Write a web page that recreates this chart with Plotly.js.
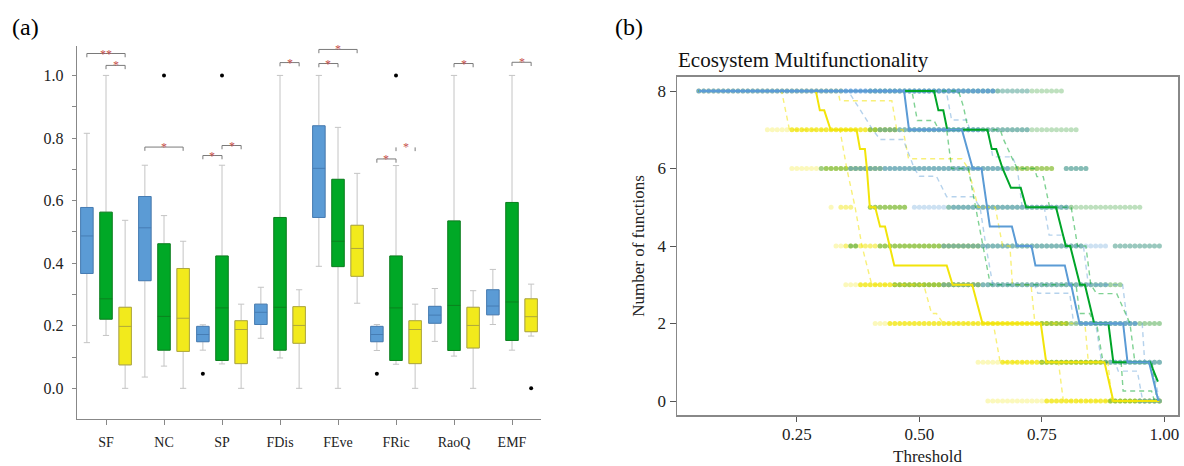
<!DOCTYPE html>
<html><head><meta charset="utf-8">
<script src="https://cdn.plot.ly/plotly-3.0.1.min.js"></script>
<style>html,body{margin:0;padding:0;background:#fff}#chart{width:1184px;height:466px}</style>
</head><body><div id="chart"></div>
<script>
// ---------- Panel (a) data ----------
const categories = ['SF','NC','SP','FDis','FEve','FRic','RaoQ','EMF'];

const blueLower = [0.146,0.036,0.122,0.160,0.390,0.121,0.150,0.204];
const blueQ1    = [0.367,0.344,0.149,0.204,0.546,0.149,0.208,0.235];
const blueMed   = [0.487,0.513,0.172,0.243,0.703,0.172,0.234,0.263];
const blueQ3    = [0.578,0.613,0.198,0.269,0.839,0.198,0.262,0.315];
const blueUpper = [0.815,0.713,0.203,0.323,1.000,0.204,0.319,0.380];

const greenLower = [0.169,0.071,0.078,0.097,0.000,0.077,0.103,0.122];
const greenQ1    = [0.221,0.122,0.089,0.122,0.389,0.089,0.121,0.153];
const greenMed   = [0.286,0.230,0.257,0.259,0.470,0.257,0.265,0.276];
const greenQ3    = [0.563,0.462,0.423,0.546,0.668,0.423,0.535,0.594];
const greenUpper = [1.000,0.552,0.713,1.000,0.834,0.712,1.000,1.000];

const yellowLower = [0.000,0.000,0.000,0.000,0.272,0.000,0.000,0.167];
const yellowQ1    = [0.075,0.118,0.079,0.144,0.358,0.079,0.129,0.181];
const yellowMed   = [0.198,0.224,0.188,0.201,0.447,0.188,0.201,0.229];
const yellowQ3    = [0.259,0.383,0.216,0.261,0.521,0.216,0.259,0.286];
const yellowUpper = [0.537,0.470,0.269,0.315,0.687,0.269,0.312,0.333];

const outlierCats   = ['NC','SP','SP','FRic','FRic','EMF'];
const outlierGroups = ['green','blue','green','blue','green','yellow'];
const outlierValues = [1.0,0.047,1.0,0.047,1.0,0.0];

const sigCats  = ['SF','SF','NC','SP','SP','FDis','FEve','FEve','FRic','FRic','RaoQ','EMF'];
const sigFrom  = ['blue','green','blue','blue','green','green','blue','blue','blue','green','green','green'];
const sigTo    = ['yellow','yellow','yellow','green','yellow','yellow','yellow','green','green','yellow','yellow','yellow'];
const sigLevel = [1.070,1.032,0.771,0.744,0.776,1.041,1.083,1.038,0.733,0.770,1.038,1.042];
const sigLabel = ['**','*','*','*','*','*','*','*','*','*','*','*'];
const sigBar   = [true,true,true,true,true,true,true,true,true,false,true,true];

// ---------- Panel (b) data ----------
const yellowSolidT = [0.05,0.289,0.297,0.306,0.319,0.372,0.379,0.389,0.393,0.399,0.41,0.42,0.43,0.44,0.449,0.556,0.568,0.608,0.629,0.748,0.759,0.878,0.896,0.99];
const yellowSolidN = [8,8,7.5,7.5,7,7,6.5,6.5,6,5,5,4.5,4.5,4,3.5,3.5,3,3,2,2,1,1,0,0];
const blueSolidT = [0.05,0.469,0.479,0.587,0.609,0.627,0.644,0.689,0.699,0.729,0.737,0.797,0.806,0.81,0.827,0.916,0.925,0.969,0.988];
const blueSolidN = [8,8,7,7,6,6,4.5,4.5,4,4,3.5,3.5,3,3,2,2,1,1,0];
const greenSolidT = [0.05,0.53,0.539,0.549,0.557,0.639,0.648,0.657,0.67,0.687,0.707,0.718,0.779,0.799,0.808,0.828,0.838,0.857,0.886,0.896,0.971,0.987];
const greenSolidN = [8,8,7.5,7.5,7,7,6.5,6.5,6,5.5,5.5,5,5,4,4,3,3,2,2,1,1,0.5];

const yellowLoT = [0.05,0.219,0.235,0.338,0.352,0.369,0.383,0.403,0.509,0.525,0.535,0.549,0.651,0.665,0.784,0.794,0.99];
const yellowLoN = [8,8,7,7,6,5,4,3,3,2.26,2.26,2,2,1,1,0,0];
const yellowHiT = [0.05,0.334,0.338,0.444,0.454,0.467,0.478,0.587,0.6,0.62,0.655,0.67,0.685,0.69,0.728,0.736,0.838,0.845,0.885,0.893,0.99];
const yellowHiN = [8,8,7.75,7.75,7,7,6.25,6.25,6,5,5,4,4,3,3,2,2,1,1,0,0];
const blueLoT = [0.05,0.35,0.36,0.375,0.405,0.42,0.467,0.49,0.5,0.535,0.556,0.61,0.624,0.636,0.65,0.735,0.742,0.807,0.815,0.86,0.872,0.9,0.906,0.945,0.956,0.99];
const blueLoN = [8,8,7.9,7.6,7,6.75,6.75,6,5.8,5.8,5.27,5.27,5,4,3,3,2.78,2.78,2,2,1,1,0.77,0.77,0,0];
const blueHiT = [0.05,0.555,0.566,0.597,0.603,0.64,0.65,0.69,0.70,0.705,0.71,0.755,0.765,0.794,0.80,0.835,0.845,0.915,0.925,0.955,0.96,0.975,0.99];
const blueHiN = [8,8,7.25,7.25,7,7,6.3,6.3,6,5.5,5,5,4.28,4.28,4,4,3,3,2,2,1,1,0];
const greenLoT = [0.05,0.485,0.496,0.53,0.54,0.556,0.566,0.60,0.63,0.645,0.82,0.827,0.848,0.856,0.862,0.875,0.912,0.916,0.974,0.98,0.99];
const greenLoN = [8,8,7.24,7.24,7,7,6,6,4,3,3,2.26,2.26,2,2,1,1,0.26,0.26,0,0];
const greenHiT = [0.05,0.58,0.59,0.60,0.665,0.672,0.69,0.70,0.735,0.74,0.753,0.766,0.81,0.823,0.84,0.85,0.862,0.903,0.93,0.94,0.975,0.985];
const greenHiN = [8,8,7.6,7,7,6.75,6.25,6,6,5.79,5.79,5,5,4,4,3,2.77,2.77,2,1,1,0];

// dots: level, from-threshold, to-threshold, opacity
const yellowDotLevel = [8,7,7,6,6,6,5,5,5,4,4,3,3,2,2,1,1,0,0];
const yellowDotFrom  = [0.05,0.19,0.24,0.24,0.31,0.70,0.32,0.34,0.40,0.33,0.35,0.35,0.38,0.41,0.44,0.62,0.67,0.64,0.76];
const yellowDotTo    = [0.34,0.23,0.45,0.30,0.42,0.77,0.32,0.36,0.47,0.34,0.62,0.37,0.62,0.43,0.80,0.66,0.88,0.75,0.99];
const yellowDotAlpha = [0.5,0.3,0.85,0.3,0.6,0.5,0.3,0.5,0.5,0.3,0.6,0.3,0.85,0.3,0.85,0.3,0.85,0.3,0.85];

const greenDotLevel = [8,8,7,7,6,6,6,5,5,5,4,4,4,3,2,1,0];
const greenDotFrom  = [0.40,0.67,0.40,0.73,0.30,0.41,0.80,0.40,0.56,0.82,0.36,0.42,0.90,0.45,0.75,0.75,0.89];
const greenDotTo    = [0.66,0.79,0.72,0.82,0.40,0.77,0.84,0.47,0.81,0.95,0.37,0.83,0.99,0.91,0.99,0.99,0.99];
const greenDotAlpha = [0.5,0.35,0.5,0.35,0.5,0.45,0.5,0.5,0.5,0.35,0.6,0.5,0.4,0.5,0.5,0.5,0.5];

const blueDotLevel = [8,8,7,7,7,6,6,5,5,4,4,4,3,2,1,0];
const blueDotFrom  = [0.05,0.66,0.42,0.48,0.63,0.36,0.80,0.49,0.57,0.55,0.84,0.90,0.55,0.83,0.88,0.95];
const blueDotTo    = [0.65,0.72,0.47,0.62,0.72,0.68,0.84,0.56,0.80,0.83,0.88,0.99,0.88,0.94,0.99,0.99];
const blueDotAlpha = [0.85,0.3,0.4,0.7,0.4,0.55,0.4,0.3,0.5,0.45,0.3,0.3,0.45,0.7,0.5,0.5];

// ---------- styles ----------
const SERIF = 'Liberation Serif, Times New Roman, serif';
const offset = {blue:-0.33, green:0, yellow:0.33};
const boxFill = {blue:'rgb(91,155,213)', green:'rgb(0,168,38)', yellow:'rgb(242,234,28)'};
const boxEdge = {blue:'rgb(70,125,180)', green:'rgb(10,130,30)', yellow:'rgb(175,168,60)'};
const lineCol = {blue:'rgb(91,155,213)', green:'rgb(0,165,40)', yellow:'rgb(242,228,10)'};
const dashCol = {blue:'rgba(91,155,213,0.45)', green:'rgba(0,165,40,0.5)', yellow:'rgba(242,228,10,0.55)'};
const dotCol = {blue:'rgb(91,155,213)', green:'rgb(70,165,70)', yellow:'rgb(242,232,30)'};
const BOXW = 0.215;

const traces = [];
function addBox(g, lo, q1, med, q3, hi){
  const xs = categories.map((c,i)=>i+offset[g]);
  traces.push({type:'box', orientation:'v', x:xs, q1:q1, median:med, q3:q3, lowerfence:lo, upperfence:hi,
    width:BOXW, fillcolor:'rgba(0,0,0,0)', line:{color:'#c4c4c4', width:1}, whiskerwidth:0.5,
    boxpoints:false, hoverinfo:'skip', showlegend:false, xaxis:'x', yaxis:'y'});
  traces.push({type:'box', orientation:'v', x:xs, q1:q1, median:med, q3:q3, lowerfence:q1, upperfence:q3,
    width:BOXW, fillcolor:boxFill[g], line:{color:boxEdge[g], width:1}, whiskerwidth:0,
    boxpoints:false, hoverinfo:'skip', showlegend:false, xaxis:'x', yaxis:'y'});
}
addBox('blue', blueLower, blueQ1, blueMed, blueQ3, blueUpper);
addBox('green', greenLower, greenQ1, greenMed, greenQ3, greenUpper);
addBox('yellow', yellowLower, yellowQ1, yellowMed, yellowQ3, yellowUpper);

traces.push({type:'scatter', mode:'markers', xaxis:'x', yaxis:'y', hoverinfo:'skip', showlegend:false,
  x: outlierCats.map((c,i)=>categories.indexOf(c)+offset[outlierGroups[i]]),
  y: outlierValues, marker:{color:'#000', size:4}});

const shapes = [], annotations = [];
const TICK = 0.012;
for (let k=0;k<sigCats.length;k++){
  const ci = categories.indexOf(sigCats[k]);
  const x1 = ci+offset[sigFrom[k]], x2 = ci+offset[sigTo[k]], y = sigLevel[k];
  const path = sigBar[k]
    ? `M ${x1},${y-TICK} L ${x1},${y} L ${x2},${y} L ${x2},${y-TICK}`
    : `M ${x1},${y-TICK} L ${x1},${y} M ${x2},${y} L ${x2},${y-TICK}`;
  shapes.push({type:'path', xref:'x', yref:'y', path:path, line:{color:'#7a7a7a', width:1}});
  annotations.push({xref:'x', yref:'y', x:(x1+x2)/2, y:y, text:sigLabel[k], showarrow:false,
    yanchor:'middle', xanchor:'center', font:{family:SERIF, size:12, color:'#c8504e'}});
}

// ---------- Panel (b) traces ----------
function addDots(g, lev, from, to, alpha){
  const xs=[], ys=[], op=[];
  for (let k=0;k<lev.length;k++){
    const a=Math.round(from[k]*100), b=Math.round(to[k]*100);
    for (let s=a;s<=b;s++){ xs.push(s/100); ys.push(lev[k]); op.push(alpha[k]); }
  }
  traces.push({type:'scatter', mode:'markers', x:xs, y:ys, xaxis:'x2', yaxis:'y2', hoverinfo:'skip', showlegend:false,
    marker:{color:dotCol[g], size:5, opacity:op, line:{width:0}}});
}
addDots('yellow', yellowDotLevel, yellowDotFrom, yellowDotTo, yellowDotAlpha);
addDots('green', greenDotLevel, greenDotFrom, greenDotTo, greenDotAlpha);
addDots('blue', blueDotLevel, blueDotFrom, blueDotTo, blueDotAlpha);

function addLine(g, t, n, dashed){
  traces.push({type:'scatter', mode:'lines', x:t, y:n, xaxis:'x2', yaxis:'y2', hoverinfo:'skip', showlegend:false,
    line: dashed ? {color:dashCol[g], width:1.4, dash:'5px,4px'} : {color:lineCol[g], width:2}});
}
addLine('yellow', yellowLoT, yellowLoN, true);
addLine('yellow', yellowHiT, yellowHiN, true);
addLine('blue', blueLoT, blueLoN, true);
addLine('blue', blueHiT, blueHiN, true);
addLine('green', greenLoT, greenLoN, true);
addLine('green', greenHiT, greenHiN, true);
addLine('yellow', yellowSolidT, yellowSolidN, false);
addLine('green', greenSolidT, greenSolidN, false);
addLine('blue', blueSolidT, blueSolidN, false);

annotations.push({xref:'paper', yref:'paper', x:10/1184, y:1-27/466, xanchor:'left', yanchor:'middle',
  text:'(a)', showarrow:false, font:{family:SERIF, size:24, color:'#000'}});
annotations.push({xref:'paper', yref:'paper', x:613/1184, y:1-27/466, xanchor:'left', yanchor:'middle',
  text:'(b)', showarrow:false, font:{family:SERIF, size:24, color:'#000'}});

const layout = {
  width:1184, height:466, margin:{l:0,r:0,t:0,b:0}, paper_bgcolor:'#fff', plot_bgcolor:'rgba(0,0,0,0)',
  showlegend:false, font:{family:SERIF, color:'#222'},
  title:{text:'Ecosystem Multifunctionality', xref:'container', yref:'container', x:678/1184, xanchor:'left',
    y:1-60/466, yanchor:'middle', font:{family:SERIF, size:21, color:'#111'}},
  xaxis:{domain:[77/1184, 541/1184], range:[-0.5,7.5], tickvals:categories.map((c,i)=>i), ticktext:categories,
    ticks:'outside', ticklen:5, tickcolor:'#888', showline:true, linecolor:'#888', linewidth:1.2,
    showgrid:false, zeroline:false, ticklabelstandoff:5, tickfont:{family:SERIF, size:14, color:'#222'}, anchor:'y'},
  yaxis:{domain:[47/466, 420/466], range:[-0.098,1.094], tick0:0, dtick:0.2, tickformat:'.1f',
    ticks:'outside', ticklen:4, tickcolor:'#888', showline:true, linecolor:'#888', linewidth:1.2,
    minor:{dtick:0.1, tick0:0, ticks:'outside', ticklen:4, tickcolor:'#888', showgrid:false},
    showgrid:false, zeroline:false, ticklabelstandoff:5, tickfont:{family:SERIF, size:16, color:'#222'}, anchor:'x'},
  xaxis2:{domain:[677/1184, 1178/1184], range:[0.0055,1.028], tickvals:[0.25,0.5,0.75,1.0], tickformat:'.2f',
    ticks:'outside', ticklen:5, tickcolor:'#555', showline:true, mirror:true, linecolor:'#888', linewidth:1.5,
    showgrid:false, zeroline:false, ticklabelstandoff:-2, tickfont:{family:SERIF, size:17, color:'#222'}, anchor:'y2',
    title:{text:'Threshold', font:{family:SERIF, size:17, color:'#222'}, standoff:14}},
  yaxis2:{domain:[50.7/466, 389.3/466], range:[-0.369,8.369], tickvals:[0,2,4,6,8],
    ticks:'outside', ticklen:6, tickcolor:'#555', showline:true, mirror:true, linecolor:'#888', linewidth:1.5,
    showgrid:false, zeroline:false, tickfont:{family:SERIF, size:17, color:'#222'}, anchor:'x2',
    title:{text:'Number of functions', font:{family:SERIF, size:17, color:'#222'}, standoff:8}},
  shapes:shapes, annotations:annotations
};
Plotly.newPlot('chart', traces, layout, {staticPlot:true, displayModeBar:false});
</script></body></html>
